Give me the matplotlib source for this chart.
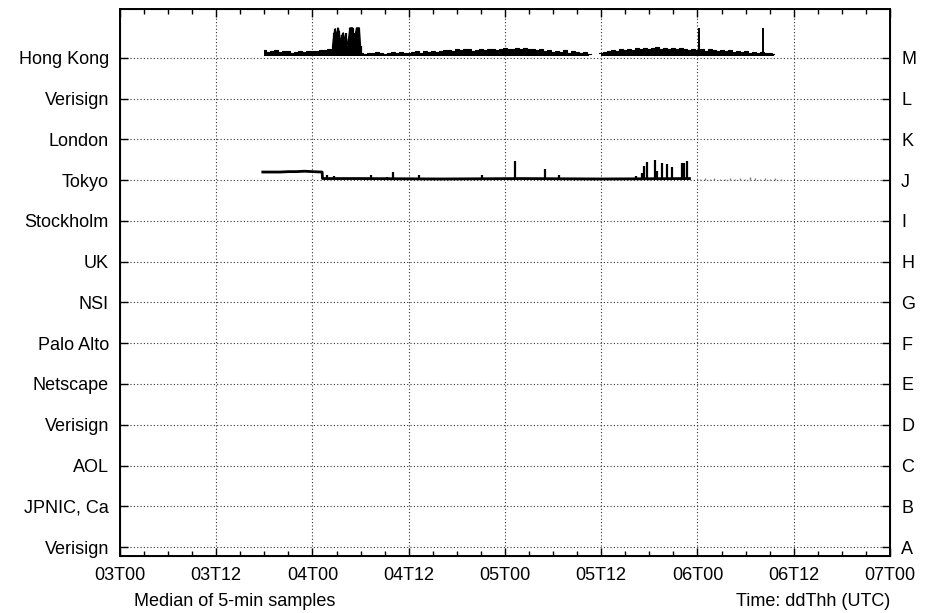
#!/usr/bin/env python3
"""Per-server response time strip chart, 03T00 to 07T00 UTC."""

import numpy as np
import matplotlib

matplotlib.use("Agg")
import matplotlib.pyplot as plt
from matplotlib.ticker import MultipleLocator

plt.rcParams["font.family"] = ["Liberation Sans", "DejaVu Sans"]

# rows from bottom (A) to top (M)
servers = ["Verisign", "JPNIC, Ca", "AOL", "Verisign", "Netscape", "Palo Alto",
           "NSI", "UK", "Stockholm", "Tokyo", "London", "Verisign", "Hong Kong"]
letters = ["A", "B", "C", "D", "E", "F", "G", "H", "I", "J", "K", "L", "M"]
tick_hours = [0, 12, 24, 36, 48, 60, 72, 84, 96]
tick_labels = ["03T00", "03T12", "04T00", "04T12", "05T00",
               "05T12", "06T00", "06T12", "07T00"]

# Hong Kong (M): upper edge of the median band, half-hour steps from 18.0 h
hk_start = 18.0
hk_hi = [0.19, 0.15, 0.17, 0.20, 0.14, 0.18, 0.16, 0.13, 0.15, 0.17, 0.14, 0.16,
         0.18, 0.16, 0.20, 0.19, 0.22, 0.20,
         0.21, 0.23, 0.20, 0.22, 0.19, 0.20,
         0.12, 0.10, 0.13, 0.11, 0.14, 0.12, 0.10, 0.13, 0.15, 0.12, 0.14, 0.13, 0.11, 0.14,
         0.16, 0.13, 0.17, 0.15, 0.18, 0.14, 0.17, 0.19,
         0.20, 0.17, 0.22, 0.19, 0.21, 0.23, 0.18, 0.20, 0.22, 0.19, 0.23, 0.21, 0.20, 0.22, 0.24, 0.21,
         0.23, 0.24, 0.22, 0.24, 0.21, 0.23, 0.20, 0.22,
         0.16, 0.19, 0.14, 0.17, 0.15, 0.20, 0.13, 0.16, 0.15, 0.12, 0.14, 0.10,
         np.nan, np.nan,
         0.12, 0.15, 0.18, 0.20, 0.17, 0.22, 0.19, 0.23, 0.20, 0.24, 0.22, 0.25,
         0.23, 0.24, 0.26, 0.22, 0.25, 0.23, 0.24, 0.21, 0.25, 0.22, 0.20, 0.23,
         0.20, 0.22, 0.18, 0.21, 0.19, 0.17, 0.20, 0.16, 0.19, 0.15,
         0.17, 0.14, 0.18, 0.13, 0.15, 0.12, 0.14, 0.11, 0.13, 0.10]
hk_floor = 0.04
# burst of high samples early on 04
hk_burst_t = [26.5, 26.67, 26.83, 27.0, 27.17, 27.33, 27.5, 27.67, 27.83, 28.0, 28.17,
              28.33, 28.5, 28.67, 28.83, 29.0, 29.17, 29.33, 29.5, 29.67, 29.83, 30.0]
hk_burst_v = [0.30, 0.60, 0.72, 0.55, 0.74, 0.65, 0.40, 0.55, 0.62, 0.45, 0.60,
              0.30, 0.50, 0.74, 0.74, 0.74, 0.20, 0.60, 0.74, 0.74, 0.74, 0.30]
hk_spike_t = [72.2, 80.2]
hk_spike_v = [0.74, 0.74]

# Tokyo (J)
tk_t = [17.8, 19.0, 20.0, 21.0, 22.0, 23.0, 24.0, 25.2, 25.25, 30.0, 40.0, 50.0, 60.0, 71.0]
tk_v = [0.20, 0.20, 0.20, 0.21, 0.21, 0.22, 0.21, 0.20, 0.04, 0.04, 0.03, 0.04, 0.03, 0.04]
tk_spike_t = [25.8, 26.7, 31.3, 33.3, 34.0, 37.3, 45.1, 49.2, 53.0, 54.7, 64.3,
              65.1, 65.3, 65.7, 66.7, 67.0, 67.6, 68.2, 68.8, 70.1, 70.3, 70.7]
tk_spike_v = [0.12, 0.10, 0.12, 0.08, 0.20, 0.12, 0.12, 0.47, 0.27, 0.12, 0.10,
              0.17, 0.34, 0.44, 0.49, 0.22, 0.42, 0.39, 0.32, 0.42, 0.42, 0.47]
# sparse late samples after 06T00
tk_tail_t = [72.3, 72.9, 73.6, 74.1, 74.8, 75.4, 76.0, 76.7, 77.3, 77.9, 78.5,
             79.2, 79.8, 80.4, 81.0, 81.7, 82.4]
tk_tail_v = [0.03, 0.05, 0.02, 0.06, 0.04, 0.03, 0.06, 0.02, 0.05, 0.04, 0.07,
             0.05, 0.03, 0.06, 0.04, 0.05, 0.03]

HK, TK = 12, 9


def main():
    fig = plt.figure(figsize=(9.36, 6.13), dpi=100)
    ax = fig.add_axes([120 / 936, 1 - 556 / 613, 770 / 936, 547 / 613])

    # Hong Kong band
    hk_t = hk_start + 0.5 * np.arange(len(hk_hi))
    hk_top = HK + np.array(hk_hi)
    ax.fill_between(hk_t, HK + hk_floor, hk_top, step="mid", color="black", lw=0)
    ax.step(hk_t, hk_top, where="mid", color="black", lw=0.8)
    ax.vlines(hk_burst_t, HK + hk_floor, HK + np.array(hk_burst_v), color="black", lw=1.6)
    ax.plot(hk_burst_t, HK + np.array(hk_burst_v), color="black", lw=0.8)
    ax.vlines(hk_spike_t, HK + hk_floor, HK + np.array(hk_spike_v), color="black",
              lw=1.4, zorder=3)

    # Tokyo
    ax.plot(tk_t, TK + np.array(tk_v), color="black", lw=2.0)
    ax.vlines(tk_spike_t, TK + 0.03, TK + np.array(tk_spike_v), color="black", lw=1.6)
    ax.vlines(tk_tail_t, TK + 0.0, TK + np.array(tk_tail_v), color="0.5", lw=1.0)

    ax.set_xlim(0, 96)
    ax.set_ylim(-0.22, 13.2)
    ax.set_xticks(tick_hours)
    ax.set_xticklabels(tick_labels)
    ax.xaxis.set_minor_locator(MultipleLocator(3))
    ax.set_yticks(range(len(servers)))
    ax.set_yticklabels(servers)

    grid = dict(color="0.2", lw=0.8, linestyle=(0, (1, 2)), zorder=0)
    for h in tick_hours[1:-1]:
        ax.axvline(h, **grid)
    for k in range(len(servers)):
        ax.axhline(k, **grid)

    ax.tick_params(which="both", direction="in", top=True, labelsize=13, width=1)
    ax.tick_params(which="major", length=6, pad=8)
    ax.tick_params(which="minor", length=3.5)
    ax.tick_params(axis="y", which="major", pad=8)
    for sp in ax.spines.values():
        sp.set_linewidth(1.4)

    right = ax.twinx()
    right.set_ylim(ax.get_ylim())
    right.set_yticks(range(len(letters)))
    right.set_yticklabels(letters)
    right.tick_params(direction="in", length=6, width=1, labelsize=13, pad=8)

    fig.text(235 / 936, 1 - 601 / 613, "Median of 5-min samples",
             ha="center", va="center", fontsize=13)
    fig.text(890 / 936, 1 - 601 / 613, "Time: ddThh (UTC)",
             ha="right", va="center", fontsize=13)

    fig.savefig("out.png", dpi=100)


if __name__ == "__main__":
    main()
